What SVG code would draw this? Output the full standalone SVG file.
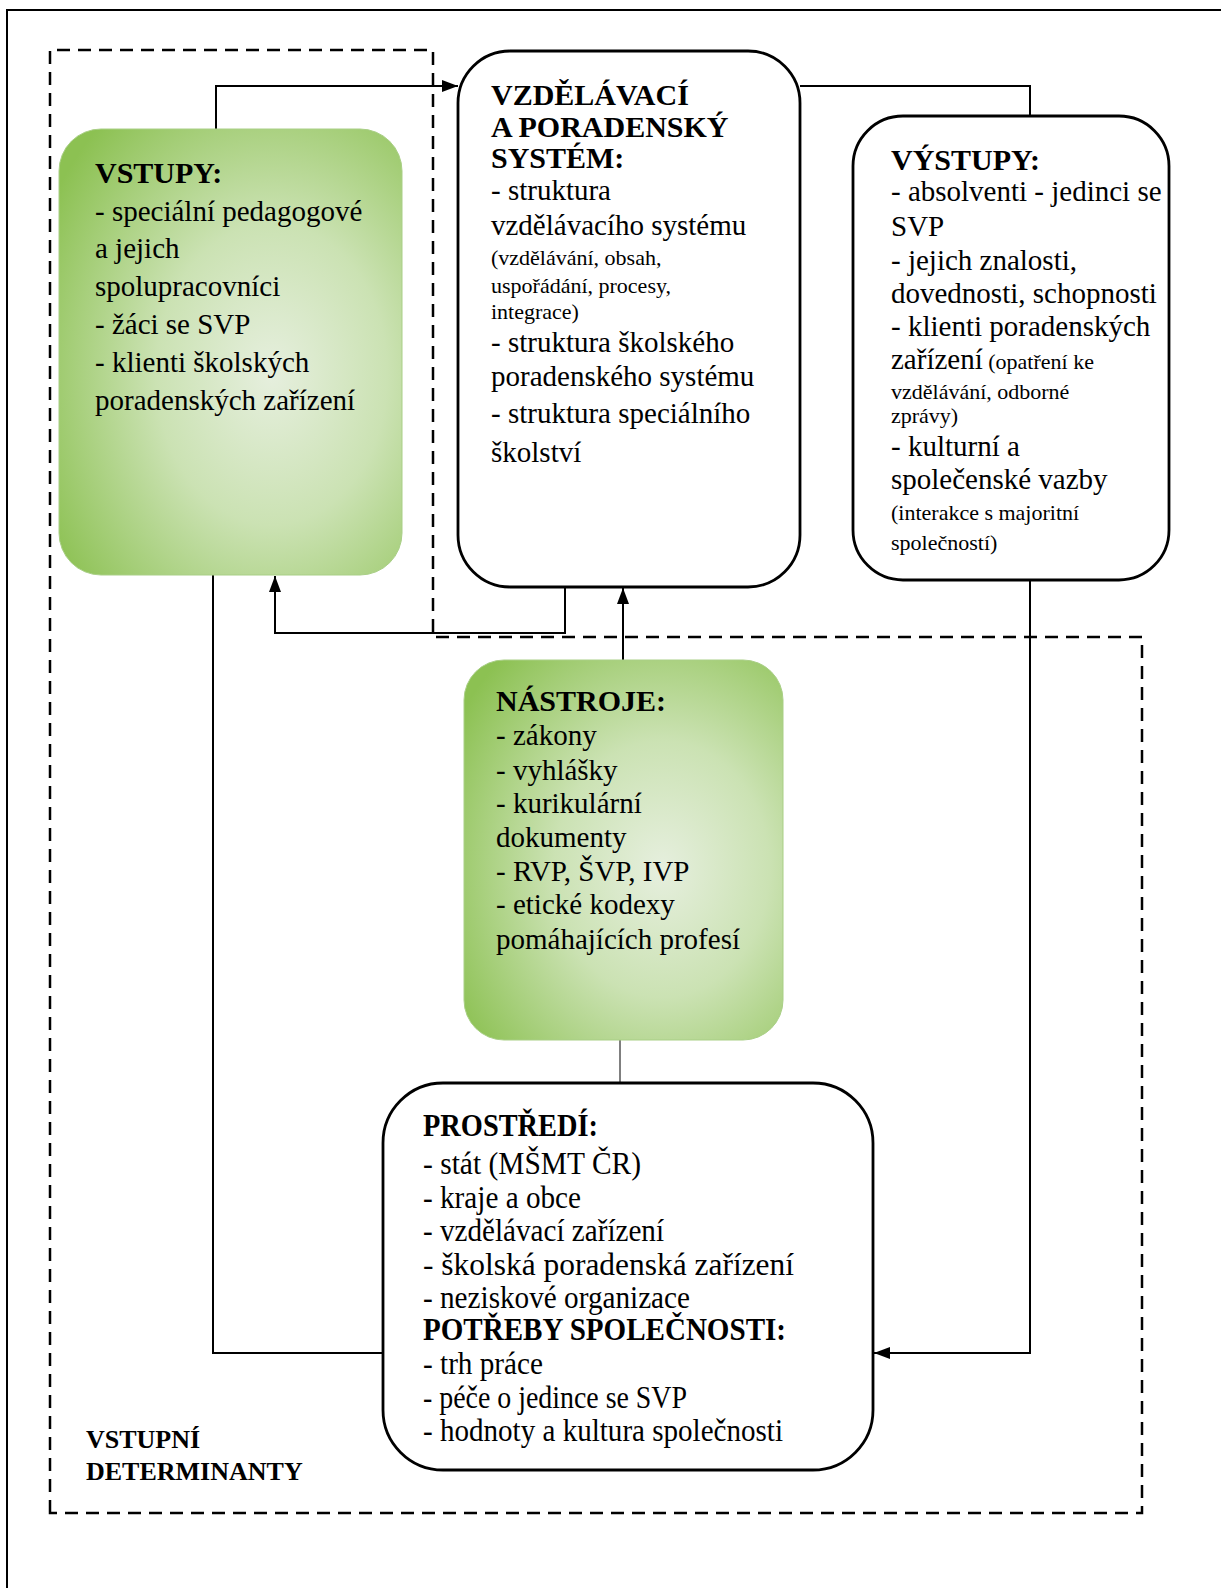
<svg xmlns="http://www.w3.org/2000/svg" width="1221" height="1588" viewBox="0 0 1221 1588">
<style>
.box{fill:#fff;stroke:#000;stroke-width:2.8}
.green{stroke:#a9cf86;stroke-width:1}
.t{font-family:"Liberation Serif","Times New Roman",serif;font-size:29px;fill:#000}
.b{font-weight:bold;font-size:30px}
.s{font-size:22px}
.p{font-size:31px}
.c{fill:none;stroke:#000;stroke-width:2}
.dash{fill:none;stroke:#000;stroke-width:2.5;stroke-dasharray:13 8}
</style>
<defs>
<radialGradient id="g" cx="0.62" cy="0.55" r="0.75">
<stop offset="0" stop-color="#e6efde"/>
<stop offset="0.45" stop-color="#cbe2b3"/>
<stop offset="1" stop-color="#8cc152"/>
</radialGradient>
<marker id="ah" viewBox="0 0 16 12" refX="16" refY="6" markerWidth="16" markerHeight="12" markerUnits="userSpaceOnUse" orient="auto">
<path d="M0,0 L16,6 L0,12 z" fill="#000"/>
</marker>
</defs>
<rect width="1221" height="1588" fill="#fff"/>
<path d="M7,1588 V10 H1221" fill="none" stroke="#000" stroke-width="2"/>
<path class="dash" d="M50,1513 V50 H433 V637 H1142 V1513 Z"/>

<g id="connectors">
<path class="c" d="M216,129 V86 H458" marker-end="url(#ah)"/>
<path class="c" d="M800,86 H1030 V116"/>
<path class="c" d="M1030,580 V1353 H874" marker-end="url(#ah)"/>
<path class="c" d="M383,1353 H213 V575"/>
<path class="c" d="M565,587 V633 H275 V576" marker-end="url(#ah)"/>
<path class="c" d="M623,660 V588" marker-end="url(#ah)"/>
<path d="M620,1040 V1083" stroke="#000" stroke-width="1"/>
</g>

<g id="vstupy">
<rect class="green" x="59" y="129" width="343" height="446" rx="42" fill="url(#g)"/>
<text class="t b" x="95" y="183">VSTUPY:</text>
<text class="t" x="95" y="221">- speciální pedagogové</text>
<text class="t" x="95" y="258">a jejich</text>
<text class="t" x="95" y="296">spolupracovníci</text>
<text class="t" x="95" y="334">- žáci se SVP</text>
<text class="t" x="95" y="372">- klienti školských</text>
<text class="t" x="95" y="410">poradenských zařízení</text>
</g>

<g id="system">
<rect class="box" x="458" y="51" width="342" height="536" rx="52"/>
<text class="t b" x="491" y="105">VZDĚLÁVACÍ</text>
<text class="t b" x="491" y="137">A PORADENSKÝ</text>
<text class="t b" x="491" y="168">SYSTÉM:</text>
<text class="t" x="491" y="200">- struktura</text>
<text class="t" x="491" y="235">vzdělávacího systému</text>
<text class="t s" x="491" y="265">(vzdělávání, obsah,</text>
<text class="t s" x="491" y="293">uspořádání, procesy,</text>
<text class="t s" x="491" y="319">integrace)</text>
<text class="t" x="491" y="352">- struktura školského</text>
<text class="t" x="491" y="386">poradenského systému</text>
<text class="t" x="491" y="423">- struktura speciálního</text>
<text class="t" x="491" y="462">školství</text>
</g>

<g id="vystupy">
<rect class="box" x="853" y="116" width="316" height="464" rx="50"/>
<text class="t b" x="891" y="170">VÝSTUPY:</text>
<text class="t" x="891" y="201">- absolventi - jedinci se</text>
<text class="t" x="891" y="236">SVP</text>
<text class="t" x="891" y="270">- jejich znalosti,</text>
<text class="t" x="891" y="303">dovednosti, schopnosti</text>
<text class="t" x="891" y="336">- klienti poradenských</text>
<text class="t" x="891" y="369">zařízení<tspan class="s"> (opatření ke</tspan></text>
<text class="t s" x="891" y="399">vzdělávání, odborné</text>
<text class="t s" x="891" y="423">zprávy)</text>
<text class="t" x="891" y="456">- kulturní a</text>
<text class="t" x="891" y="489">společenské vazby</text>
<text class="t s" x="891" y="520">(interakce s majoritní</text>
<text class="t s" x="891" y="550">společností)</text>
</g>

<g id="nastroje">
<rect class="green" x="464" y="660" width="319" height="380" rx="40" fill="url(#g)"/>
<text class="t b" x="496" y="711">NÁSTROJE:</text>
<text class="t" x="496" y="745">- zákony</text>
<text class="t" x="496" y="780">- vyhlášky</text>
<text class="t" x="496" y="813">- kurikulární</text>
<text class="t" x="496" y="847">dokumenty</text>
<text class="t" x="496" y="881">- RVP, ŠVP, IVP</text>
<text class="t" x="496" y="914">- etické kodexy</text>
<text class="t" x="496" y="949">pomáhajících profesí</text>
</g>

<g id="prostredi">
<rect class="box" x="383" y="1083" width="490" height="387" rx="60"/>
<text class="t b p" x="423" y="1136" textLength="175" lengthAdjust="spacingAndGlyphs">PROSTŘEDÍ:</text>
<text class="t p" x="423" y="1174" textLength="218" lengthAdjust="spacingAndGlyphs">- stát (MŠMT ČR)</text>
<text class="t p" x="423" y="1208" textLength="158" lengthAdjust="spacingAndGlyphs">- kraje a obce</text>
<text class="t p" x="423" y="1241" textLength="241" lengthAdjust="spacingAndGlyphs">- vzdělávací zařízení</text>
<text class="t p" x="423" y="1275" textLength="371" lengthAdjust="spacingAndGlyphs">- školská poradenská zařízení</text>
<text class="t p" x="423" y="1308" textLength="267" lengthAdjust="spacingAndGlyphs">- neziskové organizace</text>
<text class="t b p" x="423" y="1340" textLength="363" lengthAdjust="spacingAndGlyphs">POTŘEBY SPOLEČNOSTI:</text>
<text class="t p" x="423" y="1374" textLength="120" lengthAdjust="spacingAndGlyphs">- trh práce</text>
<text class="t p" x="423" y="1408" textLength="264" lengthAdjust="spacingAndGlyphs">- péče o jedince se SVP</text>
<text class="t p" x="423" y="1441" textLength="360" lengthAdjust="spacingAndGlyphs">- hodnoty a kultura společnosti</text>
</g>

<g id="determinanty">
<text class="t b" x="86" y="1448" style="font-size:26px">VSTUPNÍ</text>
<text class="t b" x="86" y="1480" style="font-size:26px">DETERMINANTY</text>
</g>
</svg>
